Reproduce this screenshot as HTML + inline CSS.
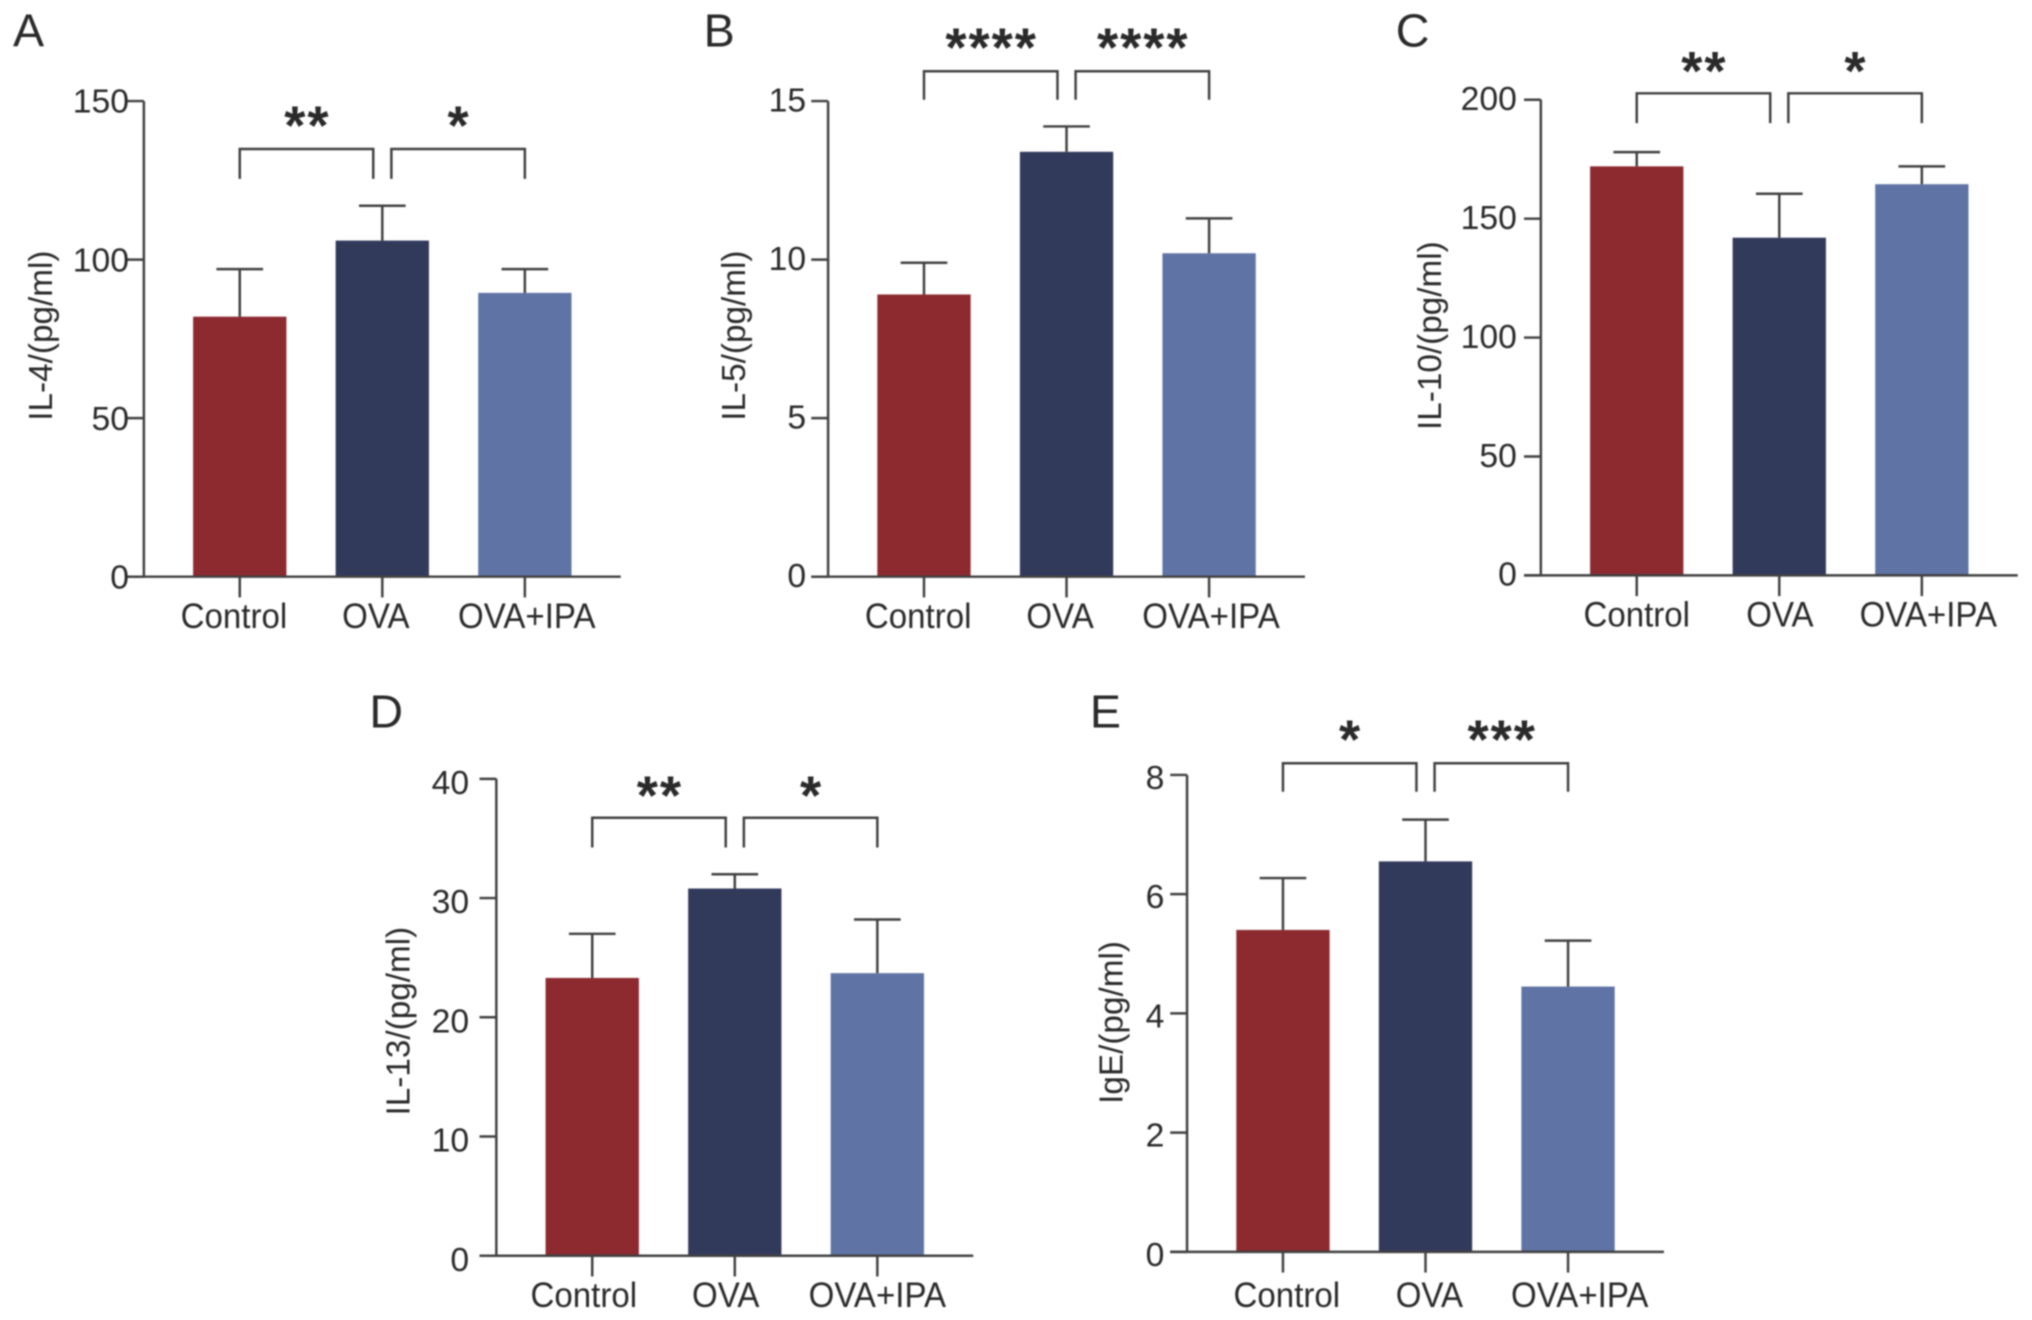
<!DOCTYPE html>
<html lang="en">
<head>
<meta charset="utf-8">
<title>Cytokine levels bar charts</title>
<style>
html,body{margin:0;padding:0;background:#fff;width:2032px;height:1320px;overflow:hidden}
svg{display:block;filter:blur(0.8px)}
text{font-family:"Liberation Sans",sans-serif;fill:#2a2a2a}
</style>
</head>
<body>
<svg id="figure" xmlns="http://www.w3.org/2000/svg" width="2032" height="1320" viewBox="0 0 1568 1018.6"></svg>
<script>
// Shared data
const categories = ['Control', 'OVA', 'OVA+IPA'];

// Panel A
const aTicks = [0, 50, 100, 150];
const aValues = [82, 106, 89.5];
const aErrors = [15, 11, 7.5];
const aStars = ['**', '*'];
// Panel B
const bTicks = [0, 5, 10, 15];
const bValues = [8.9, 13.4, 10.2];
const bErrors = [1, 0.8, 1.1];
const bStars = ['****', '****'];
// Panel C
const cTicks = [0, 50, 100, 150, 200];
const cValues = [172, 142, 164.5];
const cErrors = [6, 18.5, 7.5];
const cStars = ['**', '*'];
// Panel D
const dTicks = [0, 10, 20, 30, 40];
const dValues = [23.3, 30.8, 23.7];
const dErrors = [3.7, 1.2, 4.5];
const dStars = ['**', '*'];
// Panel E
const eTicks = [0, 2, 4, 6, 8];
const eValues = [5.4, 6.55, 4.45];
const eErrors = [0.87, 0.7, 0.77];
const eStars = ['*', '***'];

const panels = [
  {id:'a', letter:'A', lx:10,  ly:36,    title:'IL-4/(pg/ml)',  ax:111,  y0:445, top:78,  right:479,  tx:40,   ty:259, brTop:115, brBot:138, starY:111, ticks:aTicks, values:aValues, errors:aErrors, stars:aStars, gap:11.5, dy:0,    shift:[-4.5,-5,1.5], xdy:39.5},
  {id:'b', letter:'B', lx:543, ly:36,    title:'IL-5/(pg/ml)',  ax:639,  y0:445, top:78,  right:1007, tx:575,  ty:259, brTop:55,  brBot:77,  starY:51,  ticks:bTicks, values:bValues, errors:bErrors, stars:bStars, gap:17,   dy:-1,   shift:[-4.5,-5,1.5], xdy:39.5},
  {id:'c', letter:'C', lx:1077,ly:36,    title:'IL-10/(pg/ml)', ax:1189, y0:444, top:77,  right:1557, tx:1112, ty:259, brTop:72,  brBot:95,  starY:69,  ticks:cTicks, values:cValues, errors:cErrors, stars:cStars, gap:18.5, dy:-1,   shift:[0,0.5,5],     xdy:39.5},
  {id:'d', letter:'D', lx:285, ly:561.5, title:'IL-13/(pg/ml)', ax:383,  y0:969, top:601, right:751,  tx:316,  ty:788, brTop:631, brBot:654, starY:628, ticks:dTicks, values:dValues, errors:dErrors, stars:dStars, gap:21,   dy:2.6,  shift:[-6.5,-7,0],   xdy:39.5},
  {id:'e', letter:'E', lx:841, ly:561.5, title:'IgE/(pg/ml)',   ax:916,  y0:966, top:598, right:1284, tx:866,  ty:789, brTop:589, brBot:611, starY:585, ticks:eTicks, values:eValues, errors:eErrors, stars:eStars, gap:17.5, dy:1.8,  shift:[3,3,9],       xdy:42.5}
];

const barColors = ['#8c2a30', '#323a5c', '#5f73a5'];
const lineColor = '#404040';
const lineWidth = 1.9;
const svgNS = 'http://www.w3.org/2000/svg';
const figure = document.getElementById('figure');

function make(tag, parent, attrs) {
  const el = document.createElementNS(svgNS, tag);
  for (const k in attrs) el.setAttribute(k, attrs[k]);
  parent.appendChild(el);
  return el;
}
function strokeLine(parent, x1, y1, x2, y2) {
  return make('line', parent, {x1, y1, x2, y2, stroke: lineColor, 'stroke-width': lineWidth});
}

panels.forEach(function (p) {
  const maxTick = p.ticks[p.ticks.length - 1];
  const yScale = function (v) { return p.y0 - (v / maxTick) * (p.y0 - p.top); };
  const xScale = function (i) { return p.ax + 74 + i * 110; };

  const g = make('g', figure, {});
  
  

  const letter = make('text', g, {x: p.lx, y: p.ly, 'font-size': 36, fill: '#1a1a1a'});
  letter.textContent = p.letter;
  
  

  const title = make('text', g, {x: p.tx, y: p.ty, 'font-size': 25.7, 'text-anchor': 'middle', transform: 'rotate(-90 ' + p.tx + ' ' + p.ty + ')'});
  title.textContent = p.title;
  
  

  p.values.forEach(function (v, i) {
    const cx = xScale(i);
    const bar = make('rect', g, {x: cx - 36, y: yScale(v), width: 72, height: p.y0 - yScale(v), fill: barColors[i]});
    
    

    const errTop = yScale(v + p.errors[i]);
    const stem = strokeLine(g, cx, yScale(v), cx, errTop);
    
    
    const cap = strokeLine(g, cx - 18, errTop, cx + 18, errTop);
    
    
  });

  const yAxis = strokeLine(g, p.ax, p.top, p.ax, p.y0);
  
  
  const xAxis = strokeLine(g, p.ax - 13, p.y0, p.right, p.y0);
  
  

  p.ticks.forEach(function (t) {
    const y = yScale(t);
    const tick = strokeLine(g, p.ax - 13, y, p.ax, y);
    
    
    const label = make('text', g, {x: p.ax - p.gap, y: y + 9 + p.dy, 'font-size': 26, 'text-anchor': 'end'});
    label.textContent = t;
    
    
  });

  categories.forEach(function (c, i) {
    const cx = xScale(i);
    const tick = strokeLine(g, cx, p.y0, cx, p.y0 + 16);
    
    
    const label = make('text', g, {x: 0, y: 0, 'font-size': 27, 'text-anchor': 'middle', transform: 'translate(' + (cx + p.shift[i]) + ' ' + (p.y0 + p.xdy) + ') scale(0.945 1)'});
    label.textContent = c;
    
    
  });

  p.stars.forEach(function (s, i) {
    const x1 = i === 0 ? xScale(0) : xScale(1) + 7;
    const x2 = i === 0 ? xScale(1) - 7 : xScale(2);
    const bracket = make('polyline', g, {points: [x1, p.brBot, x1, p.brTop, x2, p.brTop, x2, p.brBot].join(' '), fill: 'none', stroke: lineColor, 'stroke-width': lineWidth});
    
    
    const star = make('text', g, {x: (x1 + x2) / 2 + 0.7, y: p.starY, 'font-size': 42, 'font-weight': 'bold', 'letter-spacing': 1.5, 'text-anchor': 'middle', fill: '#1a1a1a'});
    star.textContent = s;
    
    
  });
});
</script>
</body>
</html>
